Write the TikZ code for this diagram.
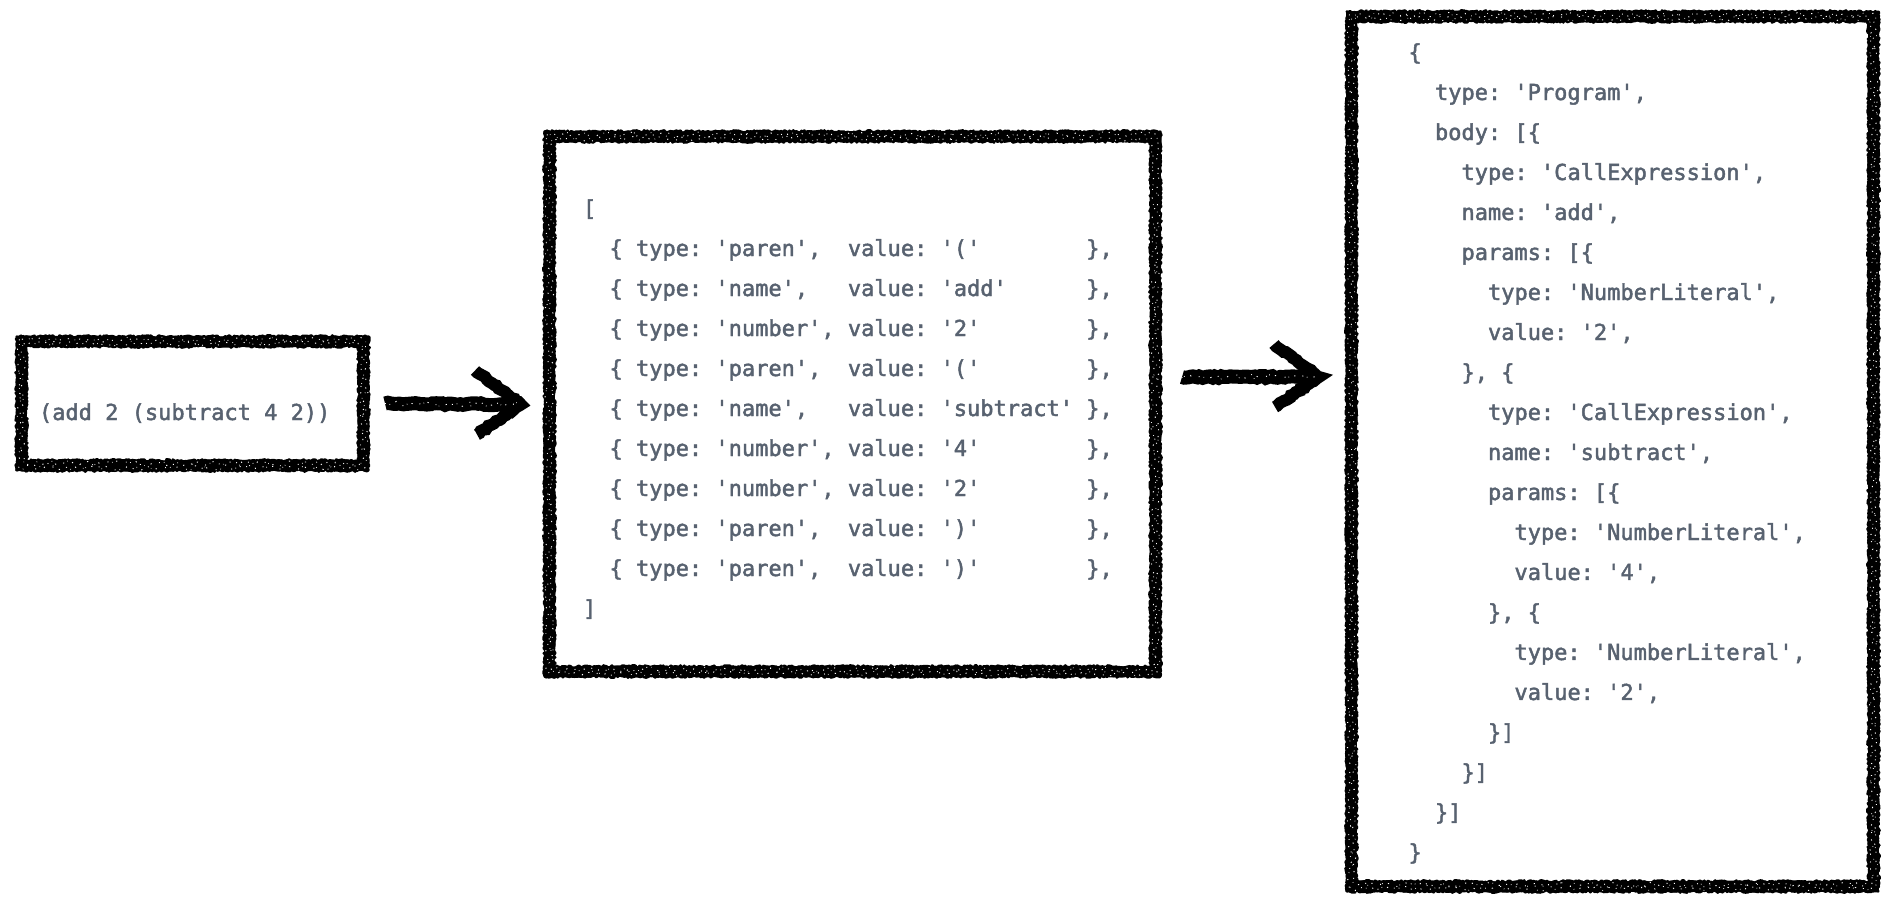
\documentclass[tikz,border=0pt]{standalone}
\usepackage{fontspec}
\setmonofont{DejaVu Sans Mono}[FakeBold=2]
\usetikzlibrary{decorations.pathmorphing}
\definecolor{codegray}{RGB}{88,98,112}
\tikzset{
  boxframe/.style={rectangle, draw=none, inner sep=0pt, outer sep=0pt},
  codetext/.style={anchor=base west, inner sep=0pt, outer sep=0pt, text=codegray,
    font=\ttfamily\fontsize{22}{40}\selectfont},
  chalkcore/.style={draw=black, line width=11pt, line join=miter, decorate,
    decoration={random steps, segment length=4pt, amplitude=0.8pt}},
  chalkrim/.style={draw=black, line width=2.6pt, line join=round, decorate,
    decoration={random steps, segment length=1.5pt, amplitude=1.3pt}},
  chalkspeck/.style={draw=white, line width=0.9pt, line join=round,
    dash pattern=on 0.9pt off 4pt on 0.6pt off 6.5pt on 1.2pt off 9pt, decorate,
    decoration={random steps, segment length=2.5pt, amplitude=2.5pt}},
  chalkstroke/.style={draw=black, line width=13pt, line join=miter, decorate,
    decoration={random steps, segment length=3pt, amplitude=0.9pt}},
}
\newcommand\chalkbox[1]{%
  \draw[chalkcore] (#1.north west) rectangle (#1.south east);
  \draw[chalkrim] ([shift={(-4.8pt,4.8pt)}]#1.north west) rectangle ([shift={(4.8pt,-4.8pt)}]#1.south east);
  \draw[chalkrim] ([shift={(4.8pt,-4.8pt)}]#1.north west) rectangle ([shift={(-4.8pt,4.8pt)}]#1.south east);
  \draw[chalkspeck] ([shift={(-2pt,2pt)}]#1.north west) rectangle ([shift={(2pt,-2pt)}]#1.south east);
  \draw[chalkspeck, dash phase=3pt] ([shift={(2pt,-2pt)}]#1.north west) rectangle ([shift={(-2pt,2pt)}]#1.south east);
}
\begin{document}
\begin{tikzpicture}[x=1pt,y=-1pt]
\pgfmathsetseed{7}
\fill[white] (0,0) rectangle (1896,910);
\useasboundingbox (0,0) rectangle (1896,910);

% frames
\node[boxframe, minimum width=342pt, minimum height=124pt] (b1) at (192.5,403.5) {};
\node[boxframe, minimum width=606pt, minimum height=535pt] (b2) at (852.5,404) {};
\node[boxframe, minimum width=522pt, minimum height=870pt] (b3) at (1612.5,451.5) {};
\chalkbox{b1}
\chalkbox{b2}
\chalkbox{b3}

% texts
\node[codetext] (src) at (39,420) {(add~2~(subtract~4~2))};

\node[codetext] (tok) at (583,216) {\begin{tabular}[t]{@{}l@{}}[\\
~~\{~type:~'paren',~~value:~'('~~~~~~~~\},\\
~~\{~type:~'name',~~~value:~'add'~~~~~~\},\\
~~\{~type:~'number',~value:~'2'~~~~~~~~\},\\
~~\{~type:~'paren',~~value:~'('~~~~~~~~\},\\
~~\{~type:~'name',~~~value:~'subtract'~\},\\
~~\{~type:~'number',~value:~'4'~~~~~~~~\},\\
~~\{~type:~'number',~value:~'2'~~~~~~~~\},\\
~~\{~type:~'paren',~~value:~')'~~~~~~~~\},\\
~~\{~type:~'paren',~~value:~')'~~~~~~~~\},\\
]\end{tabular}};

\node[codetext] (ast) at (1408.5,60) {\begin{tabular}[t]{@{}l@{}}\{\\
~~type:~'Program',\\
~~body:~[\{\\
~~~~type:~'CallExpression',\\
~~~~name:~'add',\\
~~~~params:~[\{\\
~~~~~~type:~'NumberLiteral',\\
~~~~~~value:~'2',\\
~~~~\},~\{\\
~~~~~~type:~'CallExpression',\\
~~~~~~name:~'subtract',\\
~~~~~~params:~[\{\\
~~~~~~~~type:~'NumberLiteral',\\
~~~~~~~~value:~'4',\\
~~~~~~\},~\{\\
~~~~~~~~type:~'NumberLiteral',\\
~~~~~~~~value:~'2',\\
~~~~~~\}]\\
~~~~\}]\\
~~\}]\\
\}\end{tabular}};

% arrows
\coordinate (a1s) at ([xshift=21.5pt]b1.east);
\coordinate (a1t) at ([xshift=-28.5pt,yshift=-0.5pt]b2.west);
\coordinate (a2s) at ([xshift=26.5pt,yshift=27pt]b2.east);
\coordinate (a2t) at ([xshift=-32.5pt,yshift=74.5pt]b3.west);

\draw[chalkstroke, line width=14pt] (a1s) -- (a1t);
\draw[chalkstroke, line width=12pt] ([shift={(-46pt,34pt)}]a1t) -- (a1t) -- ([shift={(-44pt,-30pt)}]a1t);
\draw[chalkspeck] (a1s) -- (a1t);

\draw[chalkstroke, line width=14pt] (a2s) -- (a2t);
\draw[chalkstroke, line width=12pt] ([shift={(-45pt,33pt)}]a2t) -- (a2t) -- ([shift={(-44pt,-30pt)}]a2t);
\draw[chalkspeck] (a2s) -- (a2t);
\end{tikzpicture}
\end{document}
